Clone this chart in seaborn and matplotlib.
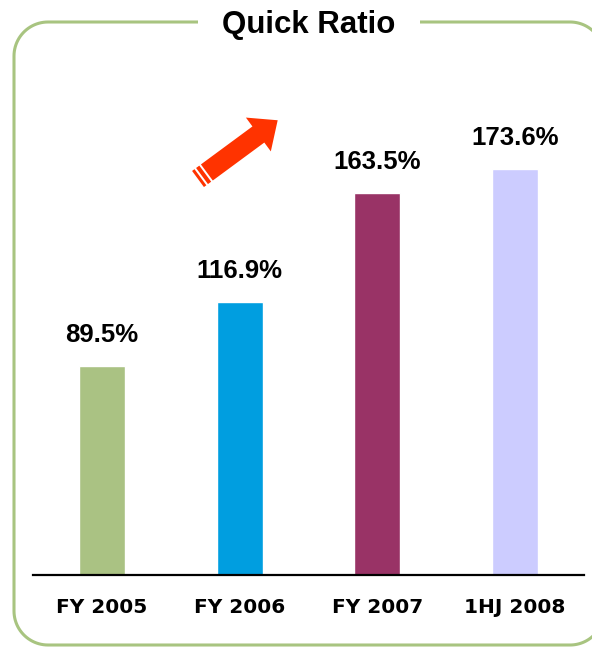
import matplotlib
matplotlib.use("Agg")
import numpy as np
import pandas as pd
import matplotlib.pyplot as plt
import seaborn as sns
from matplotlib.patches import Polygon
from matplotlib.lines import Line2D

# ---- data ----
categories = ["FY 2005", "FY 2006", "FY 2007", "1HJ 2008"]
values = [89.5, 116.9, 163.5, 173.6]
value_labels = ["89.5%", "116.9%", "163.5%", "173.6%"]
bar_colors = ["#AAC283", "#009EE0", "#993366", "#CCCCFF"]
chart_title = "Quick Ratio"

sns.set_theme(style="white")
plt.rcParams["font.family"] = ["Liberation Sans", "DejaVu Sans"]
plt.rcParams["savefig.bbox"] = "standard"

W, H = 592, 647
fig = plt.figure(figsize=(W / 100, H / 100), dpi=100)
fig.patch.set_facecolor("white")


def fx(x):
    return x / W


def fy(y):
    return 1 - y / H


ax = fig.add_axes([fx(33), (H - 575) / H, 551 / W, (575 - 61) / H])
df = pd.DataFrame({"period": categories, "ratio": values})
sns.barplot(data=df, x="period", y="ratio", hue="period", palette=bar_colors,
            width=0.334, saturation=1, legend=False, ax=ax)

ax.set_xlim(-0.5, len(categories) - 0.5)
ax.set_ylim(0, 220)
ax.set_xlabel("")
ax.set_ylabel("")
ax.set_yticks([])
ax.set_facecolor("none")
for s in ["top", "left", "right"]:
    ax.spines[s].set_visible(False)
ax.spines["bottom"].set_color("black")
ax.spines["bottom"].set_linewidth(1.6)
ax.tick_params(axis="x", length=0, pad=16.5)
for lbl in ax.get_xticklabels():
    lbl.set_fontfamily("DejaVu Sans")
    lbl.set_fontweight("bold")
    lbl.set_fontsize(14.5)
    lbl.set_color("black")

for i, (v, t) in enumerate(zip(values, value_labels)):
    ax.annotate(t, (i, v), xytext=(0, 17.3), textcoords="offset points",
                ha="center", va="baseline", fontsize=18.5, fontweight="bold",
                color="black")

# title breaking the frame
fig.text(fx(309), fy(33.5), chart_title, ha="center", va="baseline",
         fontsize=22.5, fontweight="bold", color="black", zorder=5,
         bbox=dict(boxstyle="square,pad=0.77", fc="white", ec="none"))

# rounded frame, drawn as an open outline (right side runs off the image)
R = 34
L, T, B, RC = 14, 22, 645, 570


def arc(cx, cy, a0, a1, n=24):
    a = np.deg2rad(np.linspace(a0, a1, n))
    return list(zip(cx + R * np.cos(a), cy - R * np.sin(a)))


a_end = np.rad2deg(np.arccos((593 - RC) / R))
pts = []
pts += arc(RC, B - R, -a_end, -90)
pts += arc(L + R, B - R, -90, -180)
pts += arc(L + R, T + R, 180, 90)
pts += arc(RC, T + R, 90, a_end)
xs = [fx(p[0]) for p in pts]
ys = [fy(p[1]) for p in pts]
fig.add_artist(Line2D(xs, ys, transform=fig.transFigure, color="#A8C480",
                      lw=2.2, solid_joinstyle="round", zorder=0))

# decorative arrow
ox, oy = 198, 179
th = np.deg2rad(36.4)
d = np.array([np.cos(th), -np.sin(th)])
n = np.array([np.sin(th), np.cos(th)])


def arrow_pts(pts):
    out = []
    for u, v in pts:
        p = np.array([ox, oy]) + u * d + v * n
        out.append((fx(p[0]), fy(p[1])))
    return out


pieces = [
    [(0, -10), (3, -10), (3, 10), (0, 10)],
    [(5, -10), (9, -10), (9, 10), (5, 10)],
    [(11, -10), (75, -10), (75, -21), (99, 0), (75, 21), (75, 10), (11, 10)],
]
for pc in pieces:
    fig.add_artist(Polygon(arrow_pts(pc), closed=True, transform=fig.transFigure,
                           fc="#FF3300", ec="none", zorder=4))

fig.savefig("out.png", dpi=100, bbox_inches=None)
